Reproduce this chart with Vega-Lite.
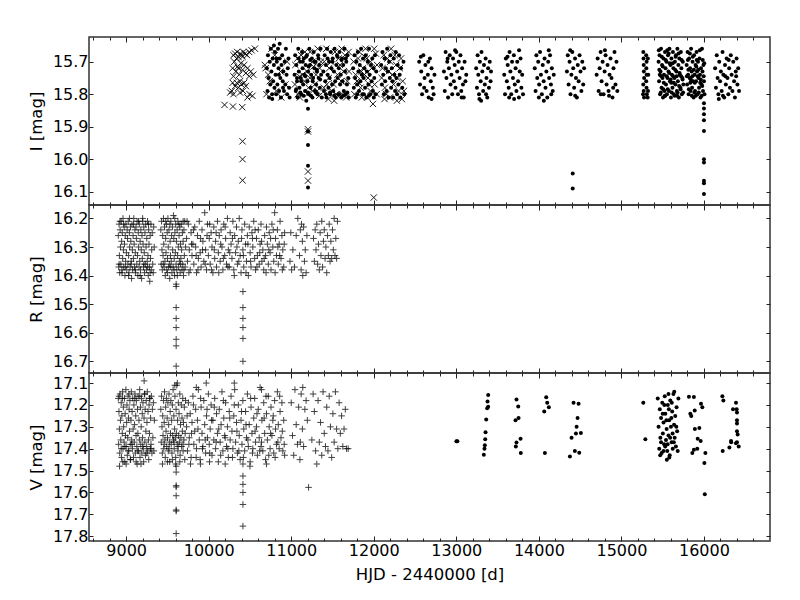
{
"$schema": "https://vega.github.io/schema/vega-lite/v6.json",
"padding": {"left": 27, "top": 35, "right": 20, "bottom": 5},
"spacing": 0,
"bounds": "flush",
"config": {
 "font": "DejaVu Sans",
 "view": {"stroke": "#333", "strokeWidth": 1.5},
 "axis": {"domain": false, "grid": false, "tickColor": "#222", "tickWidth": 1, "labelFont": "DejaVu Sans", "labelFontSize": 16, "labelColor": "black", "titleFont": "DejaVu Sans", "titleFontSize": 16.5, "titleFontWeight": "normal", "titleColor": "black"}
},
"datasets": {
"Ix": [
{"t":10300,"y":15.68},{"t":10320,"y":15.675},{"t":10345,"y":15.67},{"t":10360,"y":15.685},{"t":10380,"y":15.675},{"t":10400,"y":15.68},{"t":10420,"y":15.67},{"t":10440,"y":15.675},{"t":10465,"y":15.68},{"t":10490,"y":15.67},{"t":10520,"y":15.665},{"t":10560,"y":15.66},{"t":10340,"y":15.69},{"t":10410,"y":15.685},
{"t":10290,"y":15.72},{"t":10310,"y":15.70},{"t":10330,"y":15.73},{"t":10350,"y":15.715},{"t":10370,"y":15.74},{"t":10390,"y":15.705},{"t":10410,"y":15.725},{"t":10430,"y":15.71},{"t":10450,"y":15.735},{"t":10470,"y":15.72},{"t":10490,"y":15.745},{"t":10510,"y":15.73},{"t":10540,"y":15.74},{"t":10300,"y":15.745},{"t":10360,"y":15.72},
{"t":10280,"y":15.79},{"t":10300,"y":15.80},{"t":10320,"y":15.775},{"t":10340,"y":15.765},{"t":10360,"y":15.78},{"t":10380,"y":15.76},{"t":10395,"y":15.77},{"t":10415,"y":15.79},{"t":10430,"y":15.765},{"t":10450,"y":15.775},{"t":10470,"y":15.81},{"t":10495,"y":15.80},{"t":10530,"y":15.805},{"t":10290,"y":15.765},{"t":10380,"y":15.795},{"t":10260,"y":15.795},
{"t":10192,"y":15.833},{"t":10294,"y":15.838},{"t":10407,"y":15.84},{"t":10410,"y":15.945},{"t":10410,"y":16.0},{"t":10410,"y":16.065},{"t":12000,"y":16.118},
{"t":10680,"y":15.71},{"t":10700,"y":15.80},{"t":10690,"y":15.72},{"t":10760,"y":15.66},{"t":10820,"y":15.79},{"t":10870,"y":15.73},{"t":10950,"y":15.70},{"t":10740,"y":15.76},{"t":10720,"y":15.74},{"t":10800,"y":15.68},{"t":10880,"y":15.81},{"t":10930,"y":15.77},
{"t":11203,"y":15.908},{"t":11203,"y":15.915},{"t":11203,"y":16.038},{"t":11203,"y":16.066},
{"t":11050,"y":15.71},{"t":11080,"y":15.80},{"t":11120,"y":15.68},{"t":11160,"y":15.76},{"t":11190,"y":15.73},{"t":11230,"y":15.67},{"t":11260,"y":15.79},{"t":11300,"y":15.74},{"t":11340,"y":15.805},{"t":11360,"y":15.70},{"t":11100,"y":15.745},{"t":11210,"y":15.78},{"t":11270,"y":15.715},{"t":11320,"y":15.66},
{"t":11045,"y":15.77},{"t":11075,"y":15.69},{"t":11105,"y":15.81},{"t":11135,"y":15.74},{"t":11165,"y":15.67},{"t":11195,"y":15.80},{"t":11225,"y":15.75},{"t":11255,"y":15.70},{"t":11285,"y":15.77},{"t":11315,"y":15.79},{"t":11345,"y":15.72},
{"t":11400,"y":15.70},{"t":11430,"y":15.77},{"t":11460,"y":15.72},{"t":11490,"y":15.79},{"t":11530,"y":15.67},{"t":11560,"y":15.74},{"t":11590,"y":15.71},{"t":11620,"y":15.80},{"t":11650,"y":15.68},{"t":11680,"y":15.76},{"t":11520,"y":15.82},{"t":11450,"y":15.815},{"t":11700,"y":15.73},{"t":11610,"y":15.66},
{"t":11395,"y":15.78},{"t":11425,"y":15.66},{"t":11455,"y":15.75},{"t":11485,"y":15.70},{"t":11515,"y":15.77},{"t":11545,"y":15.80},{"t":11575,"y":15.69},{"t":11605,"y":15.76},{"t":11635,"y":15.73},{"t":11665,"y":15.81},{"t":11695,"y":15.67},
{"t":11755,"y":15.70},{"t":11780,"y":15.74},{"t":11810,"y":15.69},{"t":11840,"y":15.78},{"t":11870,"y":15.72},{"t":11900,"y":15.66},{"t":11930,"y":15.75},{"t":11960,"y":15.70},{"t":11990,"y":15.83},{"t":12010,"y":15.77},{"t":12040,"y":15.71},{"t":11820,"y":15.765},{"t":11890,"y":15.685},{"t":11960,"y":15.79},{"t":11850,"y":15.73},{"t":11920,"y":15.81},{"t":12025,"y":15.675},
{"t":11765,"y":15.80},{"t":11795,"y":15.76},{"t":11825,"y":15.67},{"t":11855,"y":15.81},{"t":11885,"y":15.74},{"t":11915,"y":15.69},{"t":11945,"y":15.77},{"t":11975,"y":15.72},{"t":12005,"y":15.66},{"t":12035,"y":15.80},
{"t":12095,"y":15.75},{"t":12120,"y":15.68},{"t":12150,"y":15.80},{"t":12180,"y":15.73},{"t":12210,"y":15.66},{"t":12240,"y":15.77},{"t":12270,"y":15.71},{"t":12300,"y":15.79},{"t":12330,"y":15.69},{"t":12350,"y":15.76},{"t":12130,"y":15.815},{"t":12280,"y":15.82},{"t":12200,"y":15.70},{"t":12340,"y":15.815},
{"t":12105,"y":15.72},{"t":12135,"y":15.78},{"t":12165,"y":15.69},{"t":12195,"y":15.81},{"t":12225,"y":15.74},{"t":12255,"y":15.68},{"t":12285,"y":15.75},{"t":12315,"y":15.72},{"t":12365,"y":15.79}
],
"Id": [
{"t":10705,"y":15.72},{"t":10712,"y":15.79},{"t":10718,"y":15.68},{"t":10725,"y":15.75},{"t":10731,"y":15.81},{"t":10740,"y":15.70},{"t":10746,"y":15.77},{"t":10752,"y":15.66},{"t":10760,"y":15.73},{"t":10768,"y":15.80},{"t":10775,"y":15.69},{"t":10781,"y":15.76},{"t":10790,"y":15.71},{"t":10797,"y":15.78},{"t":10803,"y":15.67},{"t":10810,"y":15.74},{"t":10818,"y":15.80},{"t":10825,"y":15.70},{"t":10832,"y":15.77},{"t":10840,"y":15.66},{"t":10846,"y":15.72},{"t":10853,"y":15.79},{"t":10860,"y":15.69},{"t":10868,"y":15.75},{"t":10875,"y":15.81},{"t":10882,"y":15.71},{"t":10890,"y":15.68},{"t":10897,"y":15.76},{"t":10905,"y":15.73},{"t":10912,"y":15.79},{"t":10920,"y":15.70},{"t":10928,"y":15.77},{"t":10935,"y":15.66},{"t":10943,"y":15.74},{"t":10950,"y":15.80},{"t":10958,"y":15.72},{"t":10966,"y":15.69},{"t":10974,"y":15.78},{"t":10980,"y":15.81},{"t":10790,"y":15.65},{"t":10860,"y":15.645},{"t":10770,"y":15.815},{"t":10820,"y":15.69},{"t":10850,"y":15.74},{"t":10900,"y":15.78},
{"t":11040,"y":15.74},{"t":11048,"y":15.68},{"t":11055,"y":15.79},{"t":11062,"y":15.71},{"t":11070,"y":15.76},{"t":11077,"y":15.81},{"t":11085,"y":15.66},{"t":11092,"y":15.73},{"t":11100,"y":15.78},{"t":11107,"y":15.70},{"t":11115,"y":15.75},{"t":11122,"y":15.80},{"t":11130,"y":15.67},{"t":11137,"y":15.72},{"t":11145,"y":15.77},{"t":11152,"y":15.69},{"t":11160,"y":15.74},{"t":11167,"y":15.79},{"t":11175,"y":15.71},{"t":11182,"y":15.82},{"t":11190,"y":15.68},{"t":11197,"y":15.76},{"t":11205,"y":15.73},{"t":11212,"y":15.80},{"t":11220,"y":15.66},{"t":11227,"y":15.71},{"t":11235,"y":15.78},{"t":11242,"y":15.74},{"t":11250,"y":15.69},{"t":11257,"y":15.81},{"t":11265,"y":15.75},{"t":11272,"y":15.67},{"t":11280,"y":15.72},{"t":11287,"y":15.79},{"t":11295,"y":15.70},{"t":11302,"y":15.77},{"t":11310,"y":15.73},{"t":11317,"y":15.80},{"t":11325,"y":15.68},{"t":11332,"y":15.75},{"t":11340,"y":15.71},{"t":11347,"y":15.78},{"t":11355,"y":15.66},{"t":11362,"y":15.74},{"t":11370,"y":15.81},{"t":11060,"y":15.785},{"t":11110,"y":15.795},{"t":11150,"y":15.805},{"t":11200,"y":15.795},{"t":11240,"y":15.805},{"t":11300,"y":15.795},{"t":11090,"y":15.69},{"t":11140,"y":15.70},{"t":11180,"y":15.685},{"t":11230,"y":15.695},{"t":11280,"y":15.70},{"t":11330,"y":15.69},{"t":11070,"y":15.75},{"t":11120,"y":15.76},{"t":11170,"y":15.745},{"t":11260,"y":15.76},{"t":11350,"y":15.755},{"t":11210,"y":15.715},{"t":11310,"y":15.725},
{"t":11203,"y":15.845},{"t":11203,"y":15.915},{"t":11203,"y":15.956},{"t":11203,"y":16.02},{"t":11203,"y":16.087},
{"t":11390,"y":15.73},{"t":11397,"y":15.79},{"t":11405,"y":15.68},{"t":11412,"y":15.76},{"t":11420,"y":15.71},{"t":11427,"y":15.81},{"t":11435,"y":15.66},{"t":11442,"y":15.74},{"t":11450,"y":15.78},{"t":11457,"y":15.70},{"t":11465,"y":15.75},{"t":11472,"y":15.80},{"t":11480,"y":15.67},{"t":11487,"y":15.72},{"t":11495,"y":15.77},{"t":11502,"y":15.69},{"t":11510,"y":15.79},{"t":11517,"y":15.73},{"t":11525,"y":15.66},{"t":11532,"y":15.76},{"t":11540,"y":15.81},{"t":11547,"y":15.71},{"t":11555,"y":15.68},{"t":11562,"y":15.75},{"t":11570,"y":15.80},{"t":11577,"y":15.72},{"t":11585,"y":15.67},{"t":11592,"y":15.77},{"t":11600,"y":15.74},{"t":11607,"y":15.81},{"t":11615,"y":15.69},{"t":11622,"y":15.76},{"t":11630,"y":15.71},{"t":11637,"y":15.79},{"t":11645,"y":15.66},{"t":11652,"y":15.73},{"t":11660,"y":15.80},{"t":11667,"y":15.70},{"t":11675,"y":15.77},{"t":11682,"y":15.68},{"t":11690,"y":15.75},{"t":11697,"y":15.81},{"t":11420,"y":15.80},{"t":11470,"y":15.795},{"t":11520,"y":15.805},{"t":11580,"y":15.80},{"t":11630,"y":15.805},{"t":11680,"y":15.795},{"t":11440,"y":15.69},{"t":11500,"y":15.70},{"t":11560,"y":15.685},{"t":11610,"y":15.695},{"t":11660,"y":15.69},
{"t":11750,"y":15.72},{"t":11758,"y":15.78},{"t":11766,"y":15.68},{"t":11774,"y":15.75},{"t":11782,"y":15.81},{"t":11790,"y":15.70},{"t":11798,"y":15.77},{"t":11806,"y":15.67},{"t":11814,"y":15.73},{"t":11822,"y":15.79},{"t":11830,"y":15.71},{"t":11838,"y":15.76},{"t":11846,"y":15.66},{"t":11854,"y":15.74},{"t":11862,"y":15.80},{"t":11870,"y":15.69},{"t":11878,"y":15.75},{"t":11886,"y":15.72},{"t":11894,"y":15.78},{"t":11902,"y":15.68},{"t":11910,"y":15.81},{"t":11918,"y":15.73},{"t":11926,"y":15.70},{"t":11934,"y":15.77},{"t":11942,"y":15.66},{"t":11950,"y":15.74},{"t":11958,"y":15.80},{"t":11966,"y":15.71},{"t":11974,"y":15.76},{"t":11982,"y":15.69},{"t":11990,"y":15.79},{"t":11998,"y":15.72},{"t":12006,"y":15.75},{"t":12014,"y":15.68},{"t":12022,"y":15.80},{"t":12030,"y":15.73},{"t":11880,"y":15.80},{"t":11940,"y":15.805},{"t":12000,"y":15.81},{"t":11800,"y":15.80},
{"t":12090,"y":15.71},{"t":12098,"y":15.77},{"t":12106,"y":15.67},{"t":12114,"y":15.74},{"t":12122,"y":15.80},{"t":12130,"y":15.69},{"t":12138,"y":15.76},{"t":12146,"y":15.72},{"t":12154,"y":15.79},{"t":12162,"y":15.66},{"t":12170,"y":15.73},{"t":12178,"y":15.81},{"t":12186,"y":15.70},{"t":12194,"y":15.75},{"t":12202,"y":15.68},{"t":12210,"y":15.78},{"t":12218,"y":15.72},{"t":12226,"y":15.76},{"t":12234,"y":15.81},{"t":12242,"y":15.69},{"t":12250,"y":15.74},{"t":12258,"y":15.79},{"t":12266,"y":15.67},{"t":12274,"y":15.75},{"t":12282,"y":15.80},{"t":12290,"y":15.71},{"t":12298,"y":15.77},{"t":12306,"y":15.68},{"t":12314,"y":15.74},{"t":12322,"y":15.81},{"t":12330,"y":15.72},{"t":12345,"y":15.78},{"t":12360,"y":15.70},{"t":12370,"y":15.80},
{"t":12550,"y":15.70},{"t":12560,"y":15.77},{"t":12575,"y":15.73},{"t":12585,"y":15.80},{"t":12600,"y":15.68},{"t":12615,"y":15.75},{"t":12625,"y":15.71},{"t":12640,"y":15.79},{"t":12655,"y":15.74},{"t":12665,"y":15.81},{"t":12680,"y":15.69},{"t":12690,"y":15.76},{"t":12700,"y":15.72},{"t":12715,"y":15.78},{"t":12725,"y":15.80},{"t":12735,"y":15.74},{"t":12610,"y":15.78},{"t":12660,"y":15.70},{"t":12700,"y":15.815},{"t":12570,"y":15.685},
{"t":12850,"y":15.73},{"t":12860,"y":15.79},{"t":12870,"y":15.67},{"t":12880,"y":15.75},{"t":12890,"y":15.70},{"t":12900,"y":15.81},{"t":12910,"y":15.72},{"t":12920,"y":15.68},{"t":12930,"y":15.77},{"t":12940,"y":15.74},{"t":12950,"y":15.80},{"t":12960,"y":15.69},{"t":12970,"y":15.76},{"t":12980,"y":15.71},{"t":12990,"y":15.78},{"t":13000,"y":15.67},{"t":13010,"y":15.73},{"t":13020,"y":15.80},{"t":13030,"y":15.70},{"t":13040,"y":15.75},{"t":13050,"y":15.68},{"t":13060,"y":15.79},{"t":13070,"y":15.72},{"t":13080,"y":15.77},{"t":13090,"y":15.81},{"t":13100,"y":15.70},{"t":13110,"y":15.76},{"t":13120,"y":15.74},{"t":12895,"y":15.69},{"t":12985,"y":15.665},{"t":13065,"y":15.81},
{"t":13240,"y":15.72},{"t":13250,"y":15.78},{"t":13258,"y":15.68},{"t":13266,"y":15.74},{"t":13275,"y":15.80},{"t":13285,"y":15.70},{"t":13295,"y":15.76},{"t":13305,"y":15.67},{"t":13315,"y":15.73},{"t":13325,"y":15.79},{"t":13335,"y":15.71},{"t":13345,"y":15.77},{"t":13355,"y":15.69},{"t":13365,"y":15.75},{"t":13375,"y":15.81},{"t":13385,"y":15.72},{"t":13395,"y":15.78},{"t":13405,"y":15.70},{"t":13415,"y":15.76},{"t":13420,"y":15.73},{"t":13280,"y":15.815},{"t":13360,"y":15.80},{"t":13300,"y":15.82},
{"t":13580,"y":15.74},{"t":13590,"y":15.80},{"t":13600,"y":15.69},{"t":13612,"y":15.76},{"t":13622,"y":15.71},{"t":13634,"y":15.78},{"t":13645,"y":15.67},{"t":13655,"y":15.73},{"t":13665,"y":15.80},{"t":13675,"y":15.70},{"t":13686,"y":15.75},{"t":13697,"y":15.68},{"t":13708,"y":15.77},{"t":13718,"y":15.72},{"t":13728,"y":15.79},{"t":13738,"y":15.70},{"t":13748,"y":15.76},{"t":13758,"y":15.81},{"t":13768,"y":15.73},{"t":13778,"y":15.69},{"t":13788,"y":15.78},{"t":13798,"y":15.74},{"t":13808,"y":15.80},{"t":13640,"y":15.81},{"t":13700,"y":15.815},{"t":13760,"y":15.665},{"t":13620,"y":15.685},
{"t":13950,"y":15.72},{"t":13960,"y":15.79},{"t":13970,"y":15.68},{"t":13980,"y":15.75},{"t":13992,"y":15.70},{"t":14003,"y":15.77},{"t":14014,"y":15.67},{"t":14025,"y":15.74},{"t":14036,"y":15.80},{"t":14047,"y":15.71},{"t":14058,"y":15.76},{"t":14069,"y":15.69},{"t":14080,"y":15.78},{"t":14091,"y":15.73},{"t":14102,"y":15.81},{"t":14113,"y":15.70},{"t":14124,"y":15.75},{"t":14135,"y":15.68},{"t":14146,"y":15.77},{"t":14157,"y":15.72},{"t":14168,"y":15.79},{"t":14180,"y":15.74},{"t":14000,"y":15.81},{"t":14060,"y":15.82},{"t":14120,"y":15.665},{"t":14150,"y":15.80},
{"t":14340,"y":15.73},{"t":14350,"y":15.68},{"t":14360,"y":15.77},{"t":14372,"y":15.70},{"t":14383,"y":15.80},{"t":14394,"y":15.74},{"t":14405,"y":15.67},{"t":14416,"y":15.72},{"t":14427,"y":15.78},{"t":14438,"y":15.69},{"t":14449,"y":15.75},{"t":14460,"y":15.81},{"t":14471,"y":15.71},{"t":14482,"y":15.76},{"t":14493,"y":15.68},{"t":14504,"y":15.73},{"t":14515,"y":15.79},{"t":14526,"y":15.70},{"t":14537,"y":15.77},{"t":14548,"y":15.72},{"t":14410,"y":16.044},{"t":14410,"y":16.09},{"t":14380,"y":15.665},{"t":14440,"y":15.805},
{"t":14700,"y":15.74},{"t":14712,"y":15.69},{"t":14724,"y":15.79},{"t":14736,"y":15.72},{"t":14748,"y":15.67},{"t":14760,"y":15.76},{"t":14772,"y":15.70},{"t":14784,"y":15.80},{"t":14796,"y":15.73},{"t":14808,"y":15.68},{"t":14820,"y":15.77},{"t":14832,"y":15.71},{"t":14844,"y":15.79},{"t":14856,"y":15.74},{"t":14868,"y":15.69},{"t":14880,"y":15.75},{"t":14892,"y":15.81},{"t":14904,"y":15.72},{"t":14916,"y":15.67},{"t":14928,"y":15.77},{"t":14940,"y":15.70},{"t":14950,"y":15.79},{"t":14750,"y":15.80},{"t":14850,"y":15.805},{"t":14900,"y":15.78},{"t":14800,"y":15.665},
{"t":15265,"y":15.67},{"t":15268,"y":15.69},{"t":15270,"y":15.71},{"t":15272,"y":15.73},{"t":15275,"y":15.75},{"t":15265,"y":15.77},{"t":15270,"y":15.79},{"t":15274,"y":15.81},{"t":15300,"y":15.68},{"t":15305,"y":15.70},{"t":15302,"y":15.72},{"t":15306,"y":15.74},{"t":15300,"y":15.76},{"t":15304,"y":15.78},{"t":15308,"y":15.80},{"t":15320,"y":15.69},{"t":15325,"y":15.74},{"t":15322,"y":15.79},{"t":15318,"y":15.81},{"t":15262,"y":15.80},
{"t":15450,"y":15.70},{"t":15456,"y":15.76},{"t":15462,"y":15.68},{"t":15468,"y":15.80},{"t":15474,"y":15.73},{"t":15480,"y":15.66},{"t":15486,"y":15.78},{"t":15492,"y":15.71},{"t":15498,"y":15.75},{"t":15504,"y":15.81},{"t":15510,"y":15.69},{"t":15516,"y":15.74},{"t":15522,"y":15.79},{"t":15528,"y":15.67},{"t":15534,"y":15.72},{"t":15540,"y":15.77},{"t":15546,"y":15.70},{"t":15552,"y":15.80},{"t":15558,"y":15.75},{"t":15564,"y":15.68},{"t":15570,"y":15.73},{"t":15576,"y":15.79},{"t":15582,"y":15.66},{"t":15588,"y":15.76},{"t":15594,"y":15.71},{"t":15600,"y":15.81},{"t":15606,"y":15.69},{"t":15612,"y":15.74},{"t":15618,"y":15.78},{"t":15624,"y":15.67},{"t":15630,"y":15.72},{"t":15636,"y":15.80},{"t":15642,"y":15.75},{"t":15648,"y":15.70},{"t":15654,"y":15.77},{"t":15660,"y":15.68},{"t":15666,"y":15.73},{"t":15672,"y":15.79},{"t":15678,"y":15.66},{"t":15684,"y":15.76},{"t":15690,"y":15.71},{"t":15696,"y":15.81},{"t":15702,"y":15.69},{"t":15708,"y":15.74},{"t":15714,"y":15.78},{"t":15720,"y":15.67},{"t":15726,"y":15.72},{"t":15732,"y":15.80},{"t":15738,"y":15.75},{"t":15744,"y":15.70},{"t":15750,"y":15.77},
{"t":15453,"y":15.665},{"t":15465,"y":15.74},{"t":15477,"y":15.795},{"t":15489,"y":15.685},{"t":15501,"y":15.715},{"t":15513,"y":15.765},{"t":15525,"y":15.805},{"t":15537,"y":15.695},{"t":15549,"y":15.745},{"t":15561,"y":15.785},{"t":15573,"y":15.675},{"t":15585,"y":15.705},{"t":15597,"y":15.755},{"t":15609,"y":15.795},{"t":15621,"y":15.705},{"t":15633,"y":15.765},{"t":15645,"y":15.805},{"t":15657,"y":15.685},{"t":15669,"y":15.745},{"t":15681,"y":15.795},{"t":15693,"y":15.675},{"t":15705,"y":15.735},{"t":15717,"y":15.785},{"t":15729,"y":15.695},{"t":15741,"y":15.755},{"t":15459,"y":15.725},{"t":15483,"y":15.745},{"t":15507,"y":15.785},{"t":15531,"y":15.805},{"t":15555,"y":15.665},{"t":15579,"y":15.735},{"t":15603,"y":15.765},{"t":15627,"y":15.745},{"t":15651,"y":15.725},{"t":15675,"y":15.805},{"t":15699,"y":15.775},{"t":15723,"y":15.745},{"t":15747,"y":15.795},
{"t":15790,"y":15.71},{"t":15796,"y":15.77},{"t":15802,"y":15.67},{"t":15808,"y":15.74},{"t":15814,"y":15.80},{"t":15820,"y":15.69},{"t":15826,"y":15.75},{"t":15832,"y":15.72},{"t":15838,"y":15.79},{"t":15844,"y":15.66},{"t":15850,"y":15.73},{"t":15856,"y":15.78},{"t":15862,"y":15.70},{"t":15868,"y":15.76},{"t":15874,"y":15.81},{"t":15880,"y":15.68},{"t":15886,"y":15.74},{"t":15892,"y":15.79},{"t":15898,"y":15.71},{"t":15904,"y":15.76},{"t":15910,"y":15.67},{"t":15916,"y":15.73},{"t":15922,"y":15.80},{"t":15928,"y":15.70},{"t":15934,"y":15.75},{"t":15940,"y":15.78},{"t":15946,"y":15.69},{"t":15952,"y":15.74},{"t":15958,"y":15.81},{"t":15964,"y":15.72},{"t":15970,"y":15.77},{"t":15976,"y":15.66},{"t":15982,"y":15.73},{"t":15988,"y":15.79},{"t":15994,"y":15.71},{"t":16000,"y":15.76},{"t":16006,"y":15.80},
{"t":15793,"y":15.745},{"t":15805,"y":15.695},{"t":15817,"y":15.785},{"t":15829,"y":15.675},{"t":15841,"y":15.755},{"t":15853,"y":15.805},{"t":15865,"y":15.685},{"t":15877,"y":15.725},{"t":15889,"y":15.765},{"t":15901,"y":15.805},{"t":15913,"y":15.695},{"t":15925,"y":15.745},{"t":15937,"y":15.795},{"t":15949,"y":15.665},{"t":15961,"y":15.755},{"t":15973,"y":15.805},{"t":15985,"y":15.695},{"t":15997,"y":15.745},{"t":15811,"y":15.725},{"t":15835,"y":15.765},{"t":15859,"y":15.745},{"t":15883,"y":15.795},{"t":15907,"y":15.715},{"t":15931,"y":15.725},{"t":15955,"y":15.765},{"t":15979,"y":15.775},{"t":16003,"y":15.705},
{"t":16000,"y":15.828},{"t":16000,"y":15.844},{"t":16000,"y":15.862},{"t":16000,"y":15.88},{"t":16000,"y":15.913},{"t":16000,"y":16.0},{"t":16000,"y":16.01},{"t":16000,"y":16.066},{"t":16000,"y":16.074},{"t":16000,"y":16.107},
{"t":16135,"y":15.72},{"t":16145,"y":15.78},{"t":16155,"y":15.68},{"t":16165,"y":15.75},{"t":16175,"y":15.80},{"t":16185,"y":15.70},{"t":16195,"y":15.76},{"t":16205,"y":15.73},{"t":16215,"y":15.79},{"t":16225,"y":15.67},{"t":16235,"y":15.74},{"t":16245,"y":15.81},{"t":16255,"y":15.71},{"t":16265,"y":15.77},{"t":16275,"y":15.69},{"t":16285,"y":15.75},{"t":16295,"y":15.80},{"t":16305,"y":15.72},{"t":16315,"y":15.78},{"t":16325,"y":15.68},{"t":16335,"y":15.74},{"t":16345,"y":15.79},{"t":16355,"y":15.70},{"t":16365,"y":15.76},{"t":16375,"y":15.81},{"t":16385,"y":15.73},{"t":16395,"y":15.69},{"t":16405,"y":15.77},{"t":16415,"y":15.72},{"t":16425,"y":15.79},{"t":16180,"y":15.815},{"t":16230,"y":15.805},{"t":16300,"y":15.695},{"t":16390,"y":15.745},{"t":16260,"y":15.745}
],
"Rp": [
{"t":8905,"y":16.26},{"t":8910,"y":16.37},{"t":8914,"y":16.22},{"t":8918,"y":16.33},{"t":8922,"y":16.39},{"t":8927,"y":16.24},{"t":8931,"y":16.30},{"t":8936,"y":16.36},{"t":8940,"y":16.21},{"t":8945,"y":16.28},{"t":8949,"y":16.38},{"t":8953,"y":16.25},{"t":8958,"y":16.34},{"t":8962,"y":16.20},{"t":8967,"y":16.31},{"t":8971,"y":16.37},{"t":8976,"y":16.23},{"t":8980,"y":16.29},{"t":8985,"y":16.40},{"t":8989,"y":16.26},{"t":8994,"y":16.35},{"t":8998,"y":16.22},{"t":9003,"y":16.32},{"t":9007,"y":16.38},{"t":9012,"y":16.24},{"t":9016,"y":16.27},{"t":9021,"y":16.36},{"t":9025,"y":16.21},{"t":9030,"y":16.33},{"t":9034,"y":16.39},{"t":9039,"y":16.25},{"t":9043,"y":16.30},{"t":9048,"y":16.37},{"t":9052,"y":16.23},{"t":9057,"y":16.28},{"t":9061,"y":16.35},{"t":9066,"y":16.41},{"t":9070,"y":16.22},{"t":9075,"y":16.31},{"t":9079,"y":16.38},{"t":9084,"y":16.26},{"t":9088,"y":16.34},{"t":9093,"y":16.20},{"t":9097,"y":16.29},{"t":9102,"y":16.37},{"t":9106,"y":16.24},{"t":9111,"y":16.32},{"t":9115,"y":16.39},{"t":9120,"y":16.23},{"t":9124,"y":16.27},{"t":9129,"y":16.36},{"t":9133,"y":16.21},{"t":9138,"y":16.33},{"t":9142,"y":16.40},{"t":9147,"y":16.25},{"t":9151,"y":16.30},{"t":9156,"y":16.37},{"t":9160,"y":16.22},{"t":9165,"y":16.35},{"t":9169,"y":16.28},{"t":9174,"y":16.38},{"t":9178,"y":16.24},{"t":9183,"y":16.31},{"t":9187,"y":16.41},{"t":9192,"y":16.26},{"t":9196,"y":16.34},{"t":9201,"y":16.21},{"t":9205,"y":16.29},{"t":9210,"y":16.37},{"t":9214,"y":16.23},{"t":9219,"y":16.32},{"t":9223,"y":16.39},{"t":9228,"y":16.25},{"t":9232,"y":16.36},{"t":9237,"y":16.22},{"t":9241,"y":16.30},{"t":9246,"y":16.38},{"t":9250,"y":16.27},{"t":9255,"y":16.35},{"t":9259,"y":16.21},{"t":9264,"y":16.33},{"t":9268,"y":16.40},{"t":9273,"y":16.24},{"t":9277,"y":16.29},{"t":9282,"y":16.37},{"t":9286,"y":16.42},{"t":9291,"y":16.26},{"t":9295,"y":16.34},{"t":9300,"y":16.22},{"t":9305,"y":16.38},{"t":9310,"y":16.31},{"t":9316,"y":16.25},{"t":9322,"y":16.36},{"t":9328,"y":16.39},{"t":9334,"y":16.23},{"t":9340,"y":16.30},
{"t":8915,"y":16.36},{"t":8950,"y":16.39},{"t":8990,"y":16.37},{"t":9030,"y":16.40},{"t":9060,"y":16.36},{"t":9110,"y":16.38},{"t":9170,"y":16.40},{"t":9215,"y":16.36},{"t":9260,"y":16.37},{"t":9290,"y":16.39},{"t":9450,"y":16.36},{"t":9500,"y":16.39},{"t":9540,"y":16.37},{"t":9580,"y":16.38},{"t":9620,"y":16.40},{"t":9660,"y":16.36},{"t":9700,"y":16.38},{"t":8925,"y":16.21},{"t":8970,"y":16.22},{"t":9040,"y":16.20},{"t":9090,"y":16.22},{"t":9150,"y":16.21},{"t":9200,"y":16.20},{"t":9270,"y":16.22},{"t":9480,"y":16.21},{"t":9530,"y":16.22},{"t":9590,"y":16.20},{"t":9640,"y":16.22},{"t":9690,"y":16.21},
{"t":9420,"y":16.24},{"t":9425,"y":16.36},{"t":9429,"y":16.21},{"t":9434,"y":16.31},{"t":9438,"y":16.38},{"t":9443,"y":16.26},{"t":9447,"y":16.33},{"t":9452,"y":16.20},{"t":9456,"y":16.29},{"t":9461,"y":16.37},{"t":9465,"y":16.23},{"t":9470,"y":16.35},{"t":9474,"y":16.40},{"t":9479,"y":16.27},{"t":9483,"y":16.32},{"t":9488,"y":16.22},{"t":9492,"y":16.38},{"t":9497,"y":16.25},{"t":9501,"y":16.34},{"t":9506,"y":16.20},{"t":9510,"y":16.30},{"t":9515,"y":16.37},{"t":9519,"y":16.24},{"t":9524,"y":16.36},{"t":9528,"y":16.41},{"t":9533,"y":16.28},{"t":9537,"y":16.33},{"t":9542,"y":16.21},{"t":9546,"y":16.35},{"t":9551,"y":16.26},{"t":9555,"y":16.39},{"t":9560,"y":16.23},{"t":9564,"y":16.31},{"t":9569,"y":16.37},{"t":9573,"y":16.19},{"t":9578,"y":16.27},{"t":9582,"y":16.34},{"t":9587,"y":16.40},{"t":9591,"y":16.25},{"t":9596,"y":16.32},{"t":9600,"y":16.22},{"t":9605,"y":16.36},{"t":9609,"y":16.28},{"t":9614,"y":16.38},{"t":9618,"y":16.24},{"t":9623,"y":16.33},{"t":9627,"y":16.21},{"t":9632,"y":16.30},{"t":9636,"y":16.37},{"t":9641,"y":16.26},{"t":9645,"y":16.35},{"t":9650,"y":16.23},{"t":9654,"y":16.39},{"t":9659,"y":16.29},{"t":9663,"y":16.34},{"t":9668,"y":16.22},{"t":9672,"y":16.31},{"t":9677,"y":16.38},{"t":9681,"y":16.25},{"t":9686,"y":16.36},{"t":9690,"y":16.28},{"t":9695,"y":16.40},{"t":9700,"y":16.24},{"t":9705,"y":16.33},{"t":9710,"y":16.21},{"t":9715,"y":16.37},{"t":9720,"y":16.30},
{"t":9732,"y":16.27},{"t":9743,"y":16.35},{"t":9754,"y":16.22},{"t":9765,"y":16.31},{"t":9776,"y":16.38},{"t":9787,"y":16.25},{"t":9798,"y":16.33},{"t":9809,"y":16.29},{"t":9820,"y":16.36},{"t":9831,"y":16.23},{"t":9842,"y":16.30},{"t":9853,"y":16.39},{"t":9864,"y":16.26},{"t":9875,"y":16.34},{"t":9886,"y":16.21},{"t":9897,"y":16.32},{"t":9908,"y":16.37},{"t":9919,"y":16.24},{"t":9930,"y":16.28},{"t":9941,"y":16.35},{"t":9952,"y":16.18},{"t":9963,"y":16.31},{"t":9974,"y":16.38},{"t":9985,"y":16.22},{"t":9996,"y":16.33},{"t":10007,"y":16.27},{"t":10018,"y":16.36},{"t":10029,"y":16.25},{"t":10040,"y":16.30},{"t":10051,"y":16.39},{"t":10062,"y":16.23},{"t":10073,"y":16.34},{"t":10084,"y":16.28},{"t":10095,"y":16.37},{"t":10106,"y":16.21},{"t":10117,"y":16.32},{"t":10128,"y":16.26},{"t":10139,"y":16.35},{"t":10150,"y":16.24},{"t":10161,"y":16.30},{"t":10172,"y":16.38},{"t":10183,"y":16.22},{"t":10194,"y":16.33},{"t":10205,"y":16.27},{"t":10216,"y":16.36},{"t":10227,"y":16.20},{"t":10238,"y":16.31},{"t":10249,"y":16.37},{"t":10260,"y":16.25},{"t":10271,"y":16.29},{"t":10282,"y":16.34},{"t":10293,"y":16.21},{"t":10304,"y":16.38},{"t":10315,"y":16.26},{"t":10326,"y":16.32},{"t":10337,"y":16.23},{"t":10348,"y":16.36},{"t":10359,"y":16.28},{"t":10370,"y":16.20},{"t":10381,"y":16.33},{"t":10392,"y":16.39},{"t":10403,"y":16.24},{"t":10414,"y":16.31},{"t":10425,"y":16.37},{"t":10436,"y":16.22},{"t":10447,"y":16.29},{"t":10458,"y":16.35},{"t":10469,"y":16.26},{"t":10480,"y":16.40},{"t":10491,"y":16.23},{"t":10502,"y":16.32},{"t":10513,"y":16.37},{"t":10524,"y":16.25},{"t":10535,"y":16.30},{"t":10546,"y":16.21},{"t":10557,"y":16.34},{"t":10568,"y":16.38},{"t":10579,"y":16.27},{"t":10590,"y":16.33},{"t":10601,"y":16.24},{"t":10612,"y":16.36},{"t":10623,"y":16.29},{"t":10634,"y":16.22},{"t":10645,"y":16.35},{"t":10656,"y":16.31},{"t":10667,"y":16.38},{"t":10678,"y":16.26},{"t":10689,"y":16.33},{"t":10700,"y":16.23},{"t":10711,"y":16.29},{"t":10722,"y":16.36},{"t":10733,"y":16.25},{"t":10744,"y":16.32},{"t":10755,"y":16.38},{"t":10766,"y":16.22},{"t":10777,"y":16.30},{"t":10788,"y":16.35},{"t":10799,"y":16.18},{"t":10810,"y":16.27},{"t":10821,"y":16.33},{"t":10832,"y":16.24},{"t":10843,"y":16.36},{"t":10854,"y":16.29},{"t":10865,"y":16.21},{"t":10876,"y":16.34},{"t":10887,"y":16.26},{"t":10898,"y":16.31},{"t":10909,"y":16.37},{"t":10920,"y":16.25},
{"t":9738,"y":16.21},{"t":9760,"y":16.39},{"t":9792,"y":16.29},{"t":9815,"y":16.24},{"t":9848,"y":16.33},{"t":9870,"y":16.38},{"t":9902,"y":16.27},{"t":9925,"y":16.31},{"t":9958,"y":16.36},{"t":9980,"y":16.26},{"t":10012,"y":16.22},{"t":10035,"y":16.38},{"t":10068,"y":16.31},{"t":10090,"y":16.25},{"t":10122,"y":16.39},{"t":10145,"y":16.29},{"t":10178,"y":16.34},{"t":10200,"y":16.23},{"t":10232,"y":16.37},{"t":10255,"y":16.32},{"t":10288,"y":16.27},{"t":10310,"y":16.40},{"t":10342,"y":16.30},{"t":10365,"y":16.35},{"t":10398,"y":16.27},{"t":10420,"y":16.33},{"t":10452,"y":16.39},{"t":10475,"y":16.29},{"t":10508,"y":16.35},{"t":10530,"y":16.27},{"t":10562,"y":16.24},{"t":10585,"y":16.37},{"t":10618,"y":16.32},{"t":10640,"y":16.28},{"t":10672,"y":16.34},{"t":10695,"y":16.39},{"t":10728,"y":16.31},{"t":10750,"y":16.27},{"t":10782,"y":16.24},{"t":10805,"y":16.39},{"t":10838,"y":16.30},{"t":10860,"y":16.33},{"t":10892,"y":16.38},{"t":10915,"y":16.29},
{"t":10985,"y":16.35},{"t":10995,"y":16.25},{"t":11005,"y":16.38},{"t":11020,"y":16.31},{"t":11040,"y":16.37},{"t":11060,"y":16.26},{"t":11080,"y":16.20},{"t":11100,"y":16.33},{"t":11110,"y":16.24},{"t":11120,"y":16.38},{"t":11135,"y":16.28},{"t":11150,"y":16.23},{"t":11160,"y":16.35},{"t":11170,"y":16.31},{"t":11180,"y":16.39},{"t":11190,"y":16.26},{"t":11140,"y":16.40},{"t":11125,"y":16.22},
{"t":11270,"y":16.27},{"t":11280,"y":16.35},{"t":11290,"y":16.24},{"t":11300,"y":16.31},{"t":11310,"y":16.22},{"t":11320,"y":16.36},{"t":11330,"y":16.29},{"t":11340,"y":16.38},{"t":11350,"y":16.25},{"t":11360,"y":16.33},{"t":11370,"y":16.21},{"t":11380,"y":16.37},{"t":11390,"y":16.28},{"t":11400,"y":16.24},{"t":11410,"y":16.34},{"t":11420,"y":16.30},{"t":11430,"y":16.39},{"t":11440,"y":16.26},{"t":11450,"y":16.33},{"t":11460,"y":16.22},{"t":11470,"y":16.35},{"t":11480,"y":16.28},{"t":11490,"y":16.34},{"t":11500,"y":16.24},{"t":11510,"y":16.31},{"t":11520,"y":16.20},{"t":11530,"y":16.33},{"t":11540,"y":16.27},{"t":11550,"y":16.34},{"t":11560,"y":16.21},
{"t":9606,"y":16.43},{"t":9606,"y":16.438},{"t":9606,"y":16.512},{"t":9606,"y":16.55},{"t":9606,"y":16.582},{"t":9606,"y":16.623},{"t":9606,"y":16.646},{"t":9606,"y":16.717},
{"t":10415,"y":16.456},{"t":10415,"y":16.512},{"t":10415,"y":16.55},{"t":10415,"y":16.582},{"t":10415,"y":16.62},{"t":10415,"y":16.70}
],
"Vp": [
{"t":8905,"y":17.17},{"t":8909,"y":17.38},{"t":8913,"y":17.23},{"t":8918,"y":17.31},{"t":8922,"y":17.42},{"t":8926,"y":17.15},{"t":8931,"y":17.27},{"t":8935,"y":17.36},{"t":8940,"y":17.19},{"t":8944,"y":17.44},{"t":8948,"y":17.25},{"t":8953,"y":17.33},{"t":8957,"y":17.14},{"t":8962,"y":17.40},{"t":8966,"y":17.21},{"t":8970,"y":17.30},{"t":8975,"y":17.37},{"t":8979,"y":17.17},{"t":8984,"y":17.46},{"t":8988,"y":17.24},{"t":8992,"y":17.34},{"t":8997,"y":17.13},{"t":9001,"y":17.39},{"t":9006,"y":17.28},{"t":9010,"y":17.20},{"t":9014,"y":17.43},{"t":9019,"y":17.35},{"t":9023,"y":17.16},{"t":9028,"y":17.26},{"t":9032,"y":17.41},{"t":9036,"y":17.22},{"t":9041,"y":17.32},{"t":9045,"y":17.18},{"t":9050,"y":17.38},{"t":9054,"y":17.45},{"t":9058,"y":17.27},{"t":9063,"y":17.14},{"t":9067,"y":17.36},{"t":9072,"y":17.23},{"t":9076,"y":17.40},{"t":9080,"y":17.17},{"t":9085,"y":17.31},{"t":9089,"y":17.44},{"t":9094,"y":17.20},{"t":9098,"y":17.37},{"t":9102,"y":17.29},{"t":9107,"y":17.15},{"t":9111,"y":17.42},{"t":9116,"y":17.25},{"t":9120,"y":17.34},{"t":9124,"y":17.18},{"t":9129,"y":17.39},{"t":9133,"y":17.47},{"t":9138,"y":17.22},{"t":9142,"y":17.33},{"t":9146,"y":17.16},{"t":9151,"y":17.41},{"t":9155,"y":17.27},{"t":9160,"y":17.36},{"t":9164,"y":17.13},{"t":9168,"y":17.44},{"t":9173,"y":17.21},{"t":9177,"y":17.38},{"t":9182,"y":17.30},{"t":9186,"y":17.17},{"t":9190,"y":17.42},{"t":9195,"y":17.24},{"t":9199,"y":17.35},{"t":9204,"y":17.19},{"t":9208,"y":17.40},{"t":9212,"y":17.46},{"t":9217,"y":17.26},{"t":9221,"y":17.15},{"t":9226,"y":17.37},{"t":9230,"y":17.22},{"t":9234,"y":17.43},{"t":9239,"y":17.32},{"t":9243,"y":17.18},{"t":9248,"y":17.39},{"t":9252,"y":17.28},{"t":9256,"y":17.14},{"t":9261,"y":17.41},{"t":9265,"y":17.23},{"t":9270,"y":17.36},{"t":9274,"y":17.45},{"t":9278,"y":17.20},{"t":9283,"y":17.33},{"t":9287,"y":17.17},{"t":9292,"y":17.40},{"t":9296,"y":17.26},{"t":9301,"y":17.38},{"t":9306,"y":17.16},{"t":9312,"y":17.42},{"t":9318,"y":17.22},{"t":9324,"y":17.35},{"t":9330,"y":17.19},{"t":9336,"y":17.41},{"t":9342,"y":17.27},
{"t":8920,"y":17.48},{"t":8960,"y":17.46},{"t":9000,"y":17.47},{"t":9050,"y":17.45},{"t":9120,"y":17.46},{"t":9180,"y":17.47},{"t":8940,"y":17.40},{"t":8985,"y":17.39},{"t":9025,"y":17.41},{"t":9070,"y":17.38},{"t":9140,"y":17.41},{"t":9200,"y":17.39},{"t":9250,"y":17.42},{"t":9300,"y":17.40},{"t":8915,"y":17.16},{"t":8955,"y":17.17},{"t":9035,"y":17.15},{"t":9105,"y":17.17},{"t":9165,"y":17.16},{"t":9225,"y":17.15},{"t":9285,"y":17.17},{"t":9218,"y":17.09},
{"t":9420,"y":17.22},{"t":9425,"y":17.37},{"t":9429,"y":17.16},{"t":9434,"y":17.30},{"t":9438,"y":17.42},{"t":9443,"y":17.25},{"t":9447,"y":17.34},{"t":9452,"y":17.18},{"t":9456,"y":17.40},{"t":9461,"y":17.28},{"t":9465,"y":17.14},{"t":9470,"y":17.36},{"t":9474,"y":17.44},{"t":9479,"y":17.21},{"t":9483,"y":17.32},{"t":9488,"y":17.17},{"t":9492,"y":17.39},{"t":9497,"y":17.26},{"t":9501,"y":17.35},{"t":9506,"y":17.19},{"t":9510,"y":17.41},{"t":9515,"y":17.29},{"t":9519,"y":17.15},{"t":9524,"y":17.37},{"t":9528,"y":17.46},{"t":9533,"y":17.23},{"t":9537,"y":17.33},{"t":9542,"y":17.18},{"t":9546,"y":17.38},{"t":9551,"y":17.27},{"t":9555,"y":17.42},{"t":9560,"y":17.20},{"t":9564,"y":17.34},{"t":9569,"y":17.13},{"t":9573,"y":17.36},{"t":9578,"y":17.25},{"t":9582,"y":17.40},{"t":9587,"y":17.31},{"t":9591,"y":17.16},{"t":9596,"y":17.35},{"t":9600,"y":17.44},{"t":9605,"y":17.22},{"t":9609,"y":17.33},{"t":9614,"y":17.11},{"t":9618,"y":17.38},{"t":9623,"y":17.27},{"t":9627,"y":17.41},{"t":9632,"y":17.19},{"t":9636,"y":17.34},{"t":9641,"y":17.24},{"t":9645,"y":17.37},{"t":9650,"y":17.15},{"t":9654,"y":17.43},{"t":9659,"y":17.29},{"t":9663,"y":17.35},{"t":9668,"y":17.20},{"t":9672,"y":17.39},{"t":9677,"y":17.26},{"t":9681,"y":17.32},{"t":9686,"y":17.17},{"t":9690,"y":17.41},{"t":9695,"y":17.28},{"t":9700,"y":17.36},{"t":9705,"y":17.21},{"t":9710,"y":17.45},{"t":9715,"y":17.33},{"t":9720,"y":17.18},
{"t":9440,"y":17.47},{"t":9500,"y":17.46},{"t":9560,"y":17.45},{"t":9600,"y":17.47},{"t":9650,"y":17.46},{"t":9460,"y":17.38},{"t":9520,"y":17.40},{"t":9580,"y":17.37},{"t":9630,"y":17.39},{"t":9690,"y":17.38},{"t":9590,"y":17.11},{"t":9620,"y":17.10},
{"t":9732,"y":17.30},{"t":9743,"y":17.41},{"t":9754,"y":17.19},{"t":9765,"y":17.35},{"t":9776,"y":17.24},{"t":9787,"y":17.44},{"t":9798,"y":17.28},{"t":9809,"y":17.16},{"t":9820,"y":17.38},{"t":9831,"y":17.32},{"t":9842,"y":17.22},{"t":9853,"y":17.40},{"t":9864,"y":17.27},{"t":9875,"y":17.13},{"t":9886,"y":17.36},{"t":9897,"y":17.45},{"t":9908,"y":17.21},{"t":9919,"y":17.33},{"t":9930,"y":17.39},{"t":9941,"y":17.18},{"t":9952,"y":17.29},{"t":9963,"y":17.42},{"t":9974,"y":17.25},{"t":9985,"y":17.35},{"t":9996,"y":17.15},{"t":10007,"y":17.38},{"t":10018,"y":17.31},{"t":10029,"y":17.20},{"t":10040,"y":17.43},{"t":10051,"y":17.27},{"t":10062,"y":17.36},{"t":10073,"y":17.17},{"t":10084,"y":17.40},{"t":10095,"y":17.24},{"t":10106,"y":17.33},{"t":10117,"y":17.46},{"t":10128,"y":17.22},{"t":10139,"y":17.37},{"t":10150,"y":17.29},{"t":10161,"y":17.14},{"t":10172,"y":17.41},{"t":10183,"y":17.26},{"t":10194,"y":17.34},{"t":10205,"y":17.19},{"t":10216,"y":17.39},{"t":10227,"y":17.30},{"t":10238,"y":17.44},{"t":10249,"y":17.23},{"t":10260,"y":17.36},{"t":10271,"y":17.16},{"t":10282,"y":17.32},{"t":10293,"y":17.40},{"t":10304,"y":17.25},{"t":10315,"y":17.13},{"t":10326,"y":17.37},{"t":10337,"y":17.28},{"t":10348,"y":17.42},{"t":10359,"y":17.20},{"t":10370,"y":17.34},{"t":10381,"y":17.45},{"t":10392,"y":17.27},{"t":10403,"y":17.38},{"t":10414,"y":17.18},{"t":10425,"y":17.31},{"t":10436,"y":17.41},{"t":10447,"y":17.23},{"t":10458,"y":17.35},{"t":10469,"y":17.15},{"t":10480,"y":17.39},{"t":10491,"y":17.29},{"t":10502,"y":17.46},{"t":10513,"y":17.21},{"t":10524,"y":17.33},{"t":10535,"y":17.40},{"t":10546,"y":17.26},{"t":10557,"y":17.17},{"t":10568,"y":17.37},{"t":10579,"y":17.30},{"t":10590,"y":17.43},{"t":10601,"y":17.22},{"t":10612,"y":17.35},{"t":10623,"y":17.12},{"t":10634,"y":17.39},{"t":10645,"y":17.27},{"t":10656,"y":17.41},{"t":10667,"y":17.19},{"t":10678,"y":17.33},{"t":10689,"y":17.45},{"t":10700,"y":17.24},{"t":10711,"y":17.36},{"t":10722,"y":17.16},{"t":10733,"y":17.30},{"t":10744,"y":17.40},{"t":10755,"y":17.21},{"t":10766,"y":17.34},{"t":10777,"y":17.27},{"t":10788,"y":17.42},{"t":10799,"y":17.18},{"t":10810,"y":17.31},{"t":10821,"y":17.38},{"t":10832,"y":17.14},{"t":10843,"y":17.29},{"t":10854,"y":17.40},{"t":10865,"y":17.23},{"t":10876,"y":17.35},{"t":10887,"y":17.19},{"t":10898,"y":17.41},{"t":10909,"y":17.27},{"t":10920,"y":17.43},
{"t":9738,"y":17.25},{"t":9760,"y":17.38},{"t":9792,"y":17.33},{"t":9815,"y":17.20},{"t":9848,"y":17.44},{"t":9870,"y":17.31},{"t":9902,"y":17.17},{"t":9925,"y":17.40},{"t":9958,"y":17.36},{"t":9980,"y":17.22},{"t":10012,"y":17.42},{"t":10035,"y":17.27},{"t":10068,"y":17.21},{"t":10090,"y":17.37},{"t":10122,"y":17.31},{"t":10145,"y":17.43},{"t":10178,"y":17.18},{"t":10200,"y":17.35},{"t":10232,"y":17.40},{"t":10255,"y":17.26},{"t":10288,"y":17.44},{"t":10310,"y":17.20},{"t":10342,"y":17.32},{"t":10365,"y":17.41},{"t":10398,"y":17.23},{"t":10420,"y":17.44},{"t":10452,"y":17.29},{"t":10475,"y":17.36},{"t":10508,"y":17.17},{"t":10530,"y":17.42},{"t":10562,"y":17.32},{"t":10585,"y":17.24},{"t":10618,"y":17.41},{"t":10640,"y":17.37},{"t":10672,"y":17.26},{"t":10695,"y":17.16},{"t":10728,"y":17.43},{"t":10750,"y":17.33},{"t":10782,"y":17.25},{"t":10805,"y":17.44},{"t":10838,"y":17.37},{"t":10860,"y":17.16},{"t":10892,"y":17.32},{"t":10915,"y":17.38},
{"t":9780,"y":17.47},{"t":9900,"y":17.47},{"t":10010,"y":17.46},{"t":10200,"y":17.47},{"t":10500,"y":17.48},{"t":10700,"y":17.47},{"t":9970,"y":17.10},{"t":10310,"y":17.10},{"t":10640,"y":17.13},{"t":9850,"y":17.12},
{"t":11000,"y":17.19},{"t":11015,"y":17.34},{"t":11030,"y":17.43},{"t":11045,"y":17.13},{"t":11060,"y":17.29},{"t":11075,"y":17.38},{"t":11090,"y":17.21},{"t":11105,"y":17.45},{"t":11120,"y":17.15},{"t":11135,"y":17.31},{"t":11150,"y":17.39},{"t":11165,"y":17.22},{"t":11180,"y":17.18},{"t":11195,"y":17.27},{"t":11110,"y":17.37},{"t":11140,"y":17.12},{"t":11210,"y":17.577},
{"t":11250,"y":17.36},{"t":11265,"y":17.15},{"t":11280,"y":17.23},{"t":11295,"y":17.41},{"t":11310,"y":17.47},{"t":11325,"y":17.18},{"t":11340,"y":17.37},{"t":11355,"y":17.28},{"t":11370,"y":17.43},{"t":11385,"y":17.14},{"t":11400,"y":17.33},{"t":11415,"y":17.39},{"t":11430,"y":17.21},{"t":11445,"y":17.41},{"t":11460,"y":17.16},{"t":11475,"y":17.30},{"t":11490,"y":17.44},{"t":11505,"y":17.24},{"t":11520,"y":17.37},{"t":11535,"y":17.14},{"t":11550,"y":17.31},{"t":11565,"y":17.40},{"t":11580,"y":17.19},{"t":11595,"y":17.33},{"t":11610,"y":17.25},{"t":11625,"y":17.39},{"t":11640,"y":17.31},{"t":11655,"y":17.22},{"t":11670,"y":17.40},{"t":11690,"y":17.40},
{"t":9606,"y":17.48},{"t":9606,"y":17.507},{"t":9606,"y":17.569},{"t":9606,"y":17.575},{"t":9606,"y":17.615},{"t":9606,"y":17.68},{"t":9606,"y":17.685},{"t":9606,"y":17.788},
{"t":10415,"y":17.47},{"t":10415,"y":17.525},{"t":10415,"y":17.563},{"t":10415,"y":17.60},{"t":10415,"y":17.655},{"t":10415,"y":17.754}
],
"Vd": [
{"t":13001,"y":17.366},{"t":13013,"y":17.366},{"t":13333,"y":17.428},{"t":13341,"y":17.40},{"t":13345,"y":17.384},{"t":13350,"y":17.357},{"t":13354,"y":17.325},{"t":13362,"y":17.267},{"t":13374,"y":17.215},{"t":13386,"y":17.208},{"t":13378,"y":17.184},{"t":13386,"y":17.155},
{"t":13729,"y":17.175},{"t":13750,"y":17.207},{"t":13754,"y":17.26},{"t":13717,"y":17.27},{"t":13729,"y":17.372},{"t":13721,"y":17.39},{"t":13778,"y":17.355},{"t":13781,"y":17.42},
{"t":14089,"y":17.165},{"t":14101,"y":17.19},{"t":14121,"y":17.21},{"t":14065,"y":17.23},{"t":14073,"y":17.42},
{"t":14420,"y":17.19},{"t":14481,"y":17.195},{"t":14469,"y":17.26},{"t":14457,"y":17.30},{"t":14449,"y":17.33},{"t":14509,"y":17.328},{"t":14396,"y":17.35},{"t":14436,"y":17.41},{"t":14489,"y":17.418},{"t":14376,"y":17.436},
{"t":15265,"y":17.19},{"t":15290,"y":17.357},
{"t":15440,"y":17.17},{"t":15450,"y":17.30},{"t":15458,"y":17.40},{"t":15465,"y":17.22},{"t":15472,"y":17.35},{"t":15480,"y":17.26},{"t":15488,"y":17.42},{"t":15495,"y":17.19},{"t":15502,"y":17.33},{"t":15510,"y":17.28},{"t":15518,"y":17.38},{"t":15525,"y":17.16},{"t":15532,"y":17.24},{"t":15540,"y":17.36},{"t":15548,"y":17.31},{"t":15555,"y":17.41},{"t":15562,"y":17.20},{"t":15570,"y":17.34},{"t":15578,"y":17.27},{"t":15585,"y":17.43},{"t":15592,"y":17.18},{"t":15600,"y":17.30},{"t":15608,"y":17.37},{"t":15615,"y":17.23},{"t":15622,"y":17.40},{"t":15630,"y":17.15},{"t":15638,"y":17.29},{"t":15645,"y":17.35},{"t":15652,"y":17.25},{"t":15660,"y":17.39},{"t":15668,"y":17.21},{"t":15675,"y":17.32},{"t":15682,"y":17.41},{"t":15690,"y":17.17},{"t":15530,"y":17.39},{"t":15560,"y":17.38},{"t":15590,"y":17.35},{"t":15620,"y":17.33},{"t":15480,"y":17.37},{"t":15510,"y":17.41},{"t":15545,"y":17.27},{"t":15575,"y":17.22},{"t":15605,"y":17.26},{"t":15635,"y":17.37},{"t":15665,"y":17.30},{"t":15500,"y":17.24},{"t":15470,"y":17.43},{"t":15550,"y":17.45},{"t":15580,"y":17.44},{"t":15520,"y":17.20},{"t":15610,"y":17.19},{"t":15570,"y":17.15},{"t":15640,"y":17.14},
{"t":15818,"y":17.162},{"t":15878,"y":17.164},{"t":15835,"y":17.24},{"t":15888,"y":17.225},{"t":15846,"y":17.25},{"t":15890,"y":17.31},{"t":15944,"y":17.305},{"t":15924,"y":17.355},{"t":15960,"y":17.365},{"t":15859,"y":17.42},{"t":15878,"y":17.405},{"t":15919,"y":17.40},{"t":15964,"y":17.195},{"t":15980,"y":17.21},{"t":16017,"y":17.42},{"t":16005,"y":17.465},{"t":16010,"y":17.608},
{"t":16223,"y":17.16},{"t":16235,"y":17.18},{"t":16227,"y":17.41},{"t":16308,"y":17.395},{"t":16328,"y":17.365},{"t":16388,"y":17.19},{"t":16396,"y":17.22},{"t":16352,"y":17.22},{"t":16400,"y":17.235},{"t":16400,"y":17.27},{"t":16400,"y":17.285},{"t":16400,"y":17.32},{"t":16408,"y":17.335},{"t":16400,"y":17.37},{"t":16421,"y":17.39},{"t":16388,"y":17.375},{"t":16330,"y":17.37}
]
},
"vconcat": [
{
 "width": 681, "height": 168,
 "layer": [
  {"data": {"name": "Id"},
   "mark": {"type": "circle", "size": 16, "color": "black", "opacity": 1},
   "encoding": {
    "x": {"field": "t", "type": "quantitative", "scale": {"domain": [8550, 16800], "nice": false, "zero": false},
      "axis": {"orient": "bottom", "values": [8600,8800,9000,9200,9400,9600,9800,10000,10200,10400,10600,10800,11000,11200,11400,11600,11800,12000,12200,12400,12600,12800,13000,13200,13400,13600,13800,14000,14200,14400,14600,14800,15000,15200,15400,15600,15800,16000,16200,16400,16600], "labels": false, "title": null, "tickSize": {"condition": {"test": "datum.value % 1000 === 0", "value": -5}, "value": -3}}},
    "y": {"field": "y", "type": "quantitative", "scale": {"domain": [15.624, 16.141], "reverse": true, "nice": false, "zero": false},
      "axis": {"orient": "left", "values": [15.7, 15.8, 15.9, 16.0, 16.1], "format": ".1f", "tickSize": -4, "labelPadding": 5, "title": "I [mag]", "titlePadding": 8}}
   }},
  {"data": {"name": "Ix"},
   "mark": {"type": "point", "shape": "M-1,-1L1,1M-1,1L1,-1", "filled": false, "stroke": "black", "strokeWidth": 1, "size": 40, "opacity": 0.9},
   "encoding": {
    "x": {"field": "t", "type": "quantitative", "scale": {"domain": [8550, 16800], "nice": false, "zero": false},
      "axis": {"orient": "top", "values": [8600,8800,9000,9200,9400,9600,9800,10000,10200,10400,10600,10800,11000,11200,11400,11600,11800,12000,12200,12400,12600,12800,13000,13200,13400,13600,13800,14000,14200,14400,14600,14800,15000,15200,15400,15600,15800,16000,16200,16400,16600], "labels": false, "title": null, "tickSize": {"condition": {"test": "datum.value % 1000 === 0", "value": -5}, "value": -3}}},
    "y": {"field": "y", "type": "quantitative", "scale": {"domain": [15.624, 16.141], "reverse": true, "nice": false, "zero": false},
      "axis": {"orient": "right", "values": [15.7, 15.8, 15.9, 16.0, 16.1], "labels": false, "tickSize": -4, "title": null}}
   }}
 ],
 "resolve": {"axis": {"x": "independent", "y": "independent"}}
},
{
 "width": 681, "height": 168,
 "layer": [
  {"data": {"name": "Rp"},
   "transform": [{"filter": "datum.t < 10000"}],
   "mark": {"type": "point", "shape": "M-1,0L1,0M0,-1L0,1", "filled": false, "stroke": "black", "strokeWidth": 1, "size": 42, "opacity": 0.75},
   "encoding": {
    "x": {"field": "t", "type": "quantitative", "scale": {"domain": [8550, 16800], "nice": false, "zero": false},
      "axis": {"orient": "bottom", "values": [8600,8800,9000,9200,9400,9600,9800,10000,10200,10400,10600,10800,11000,11200,11400,11600,11800,12000,12200,12400,12600,12800,13000,13200,13400,13600,13800,14000,14200,14400,14600,14800,15000,15200,15400,15600,15800,16000,16200,16400,16600], "labels": false, "title": null, "tickSize": {"condition": {"test": "datum.value % 1000 === 0", "value": -5}, "value": -3}}},
    "y": {"field": "y", "type": "quantitative", "scale": {"domain": [16.153, 16.741], "reverse": true, "nice": false, "zero": false},
      "axis": {"orient": "left", "values": [16.2, 16.3, 16.4, 16.5, 16.6, 16.7], "format": ".1f", "tickSize": -4, "labelPadding": 5, "title": "R [mag]", "titlePadding": 8}}
   }},
  {"data": {"name": "Rp"},
   "transform": [{"filter": "datum.t >= 10000"}],
   "mark": {"type": "point", "shape": "M-1,0L1,0M0,-1L0,1", "filled": false, "stroke": "black", "strokeWidth": 1, "size": 42, "opacity": 0.75},
   "encoding": {
    "x": {"field": "t", "type": "quantitative", "scale": {"domain": [8550, 16800], "nice": false, "zero": false},
      "axis": {"orient": "top", "values": [8600,8800,9000,9200,9400,9600,9800,10000,10200,10400,10600,10800,11000,11200,11400,11600,11800,12000,12200,12400,12600,12800,13000,13200,13400,13600,13800,14000,14200,14400,14600,14800,15000,15200,15400,15600,15800,16000,16200,16400,16600], "labels": false, "title": null, "tickSize": {"condition": {"test": "datum.value % 1000 === 0", "value": -5}, "value": -3}}},
    "y": {"field": "y", "type": "quantitative", "scale": {"domain": [16.153, 16.741], "reverse": true, "nice": false, "zero": false},
      "axis": {"orient": "right", "values": [16.2, 16.3, 16.4, 16.5, 16.6, 16.7], "labels": false, "tickSize": -4, "title": null}}
   }}
 ],
 "resolve": {"axis": {"x": "independent", "y": "independent"}}
},
{
 "width": 681, "height": 168,
 "layer": [
  {"data": {"name": "Vp"},
   "mark": {"type": "point", "shape": "M-1,0L1,0M0,-1L0,1", "filled": false, "stroke": "black", "strokeWidth": 1, "size": 42, "opacity": 0.75},
   "encoding": {
    "x": {"field": "t", "type": "quantitative", "scale": {"domain": [8550, 16800], "nice": false, "zero": false},
      "axis": {"orient": "bottom", "values": [8600,8800,9000,9200,9400,9600,9800,10000,10200,10400,10600,10800,11000,11200,11400,11600,11800,12000,12200,12400,12600,12800,13000,13200,13400,13600,13800,14000,14200,14400,14600,14800,15000,15200,15400,15600,15800,16000,16200,16400,16600], "labelExpr": "datum.value % 1000 === 0 ? format(datum.value, 'd') : ''", "labelPadding": 6, "title": "HJD - 2440000 [d]", "titlePadding": 8, "tickSize": {"condition": {"test": "datum.value % 1000 === 0", "value": -5}, "value": -3}}},
    "y": {"field": "y", "type": "quantitative", "scale": {"domain": [17.054, 17.822], "reverse": true, "nice": false, "zero": false},
      "axis": {"orient": "left", "values": [17.1, 17.2, 17.3, 17.4, 17.5, 17.6, 17.7, 17.8], "format": ".1f", "tickSize": -4, "labelPadding": 5, "title": "V [mag]", "titlePadding": 8}}
   }},
  {"data": {"name": "Vd"},
   "mark": {"type": "circle", "size": 16, "color": "black", "opacity": 1},
   "encoding": {
    "x": {"field": "t", "type": "quantitative", "scale": {"domain": [8550, 16800], "nice": false, "zero": false},
      "axis": {"orient": "top", "values": [8600,8800,9000,9200,9400,9600,9800,10000,10200,10400,10600,10800,11000,11200,11400,11600,11800,12000,12200,12400,12600,12800,13000,13200,13400,13600,13800,14000,14200,14400,14600,14800,15000,15200,15400,15600,15800,16000,16200,16400,16600], "labels": false, "title": null, "tickSize": {"condition": {"test": "datum.value % 1000 === 0", "value": -5}, "value": -3}}},
    "y": {"field": "y", "type": "quantitative", "scale": {"domain": [17.054, 17.822], "reverse": true, "nice": false, "zero": false},
      "axis": {"orient": "right", "values": [17.1, 17.2, 17.3, 17.4, 17.5, 17.6, 17.7, 17.8], "labels": false, "tickSize": -4, "title": null}}
   }}
 ],
 "resolve": {"axis": {"x": "independent", "y": "independent"}}
}
]
}
